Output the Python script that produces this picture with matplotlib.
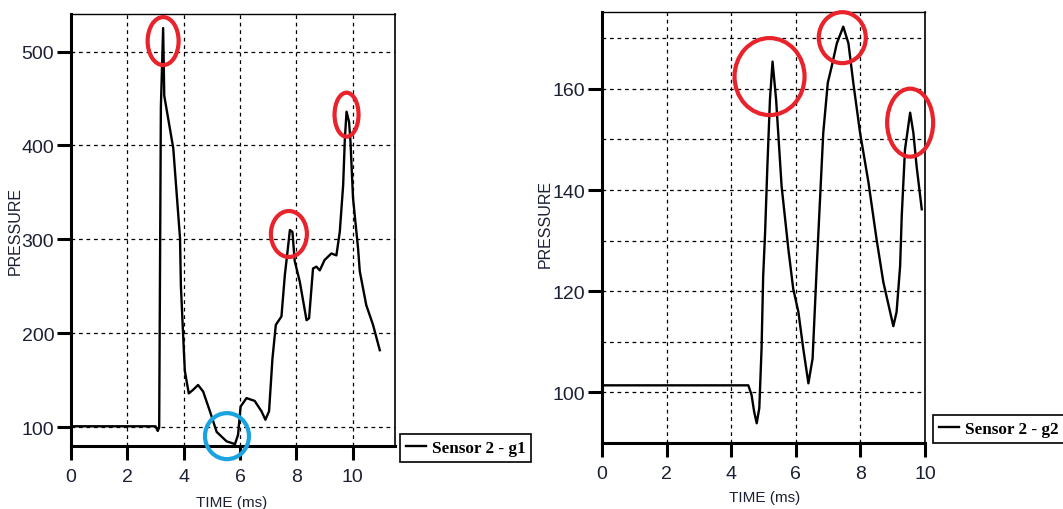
import matplotlib
matplotlib.use("Agg")
import matplotlib.pyplot as plt
import numpy as np
from matplotlib.patches import Ellipse
from matplotlib.transforms import ScaledTranslation

# ---------------- data ----------------
g1_time = [0.0, 1.0, 2.0, 3.0, 3.08, 3.13, 3.19, 3.27, 3.31, 3.63, 3.87, 3.90, 3.98,
           4.04, 4.18, 4.34, 4.51, 4.69, 4.93, 5.17, 5.52, 5.82, 5.93, 6.02, 6.23,
           6.52, 6.76, 6.90, 7.03, 7.15, 7.27, 7.47, 7.59, 7.67, 7.77, 7.86, 7.94,
           8.12, 8.36, 8.45, 8.59, 8.71, 8.83, 9.00, 9.24, 9.42, 9.54, 9.66, 9.72,
           9.78, 9.87, 9.92, 10.01, 10.19, 10.25, 10.48, 10.72, 10.96]
g1_pressure = [101, 101, 101, 101, 96, 100, 441, 525, 453, 397, 301, 251, 198,
               160, 136, 140, 145, 138, 117, 95, 85, 82, 92, 122, 131,
               128, 117, 108, 117, 173, 209, 218, 262, 283, 310, 308, 277,
               255, 214, 216, 269, 271, 267, 278, 285, 283, 308, 358, 407,
               436, 425, 404, 344, 290, 266, 230, 209, 182]

g2_time = [0.0, 1.0, 2.0, 3.0, 4.0, 4.53, 4.63, 4.71, 4.79, 4.87, 4.94, 4.99, 5.05,
           5.12, 5.20, 5.28, 5.39, 5.56, 5.77, 5.92, 6.08, 6.23, 6.39, 6.52, 6.65,
           6.75, 6.85, 6.99, 7.11, 7.27, 7.47, 7.63, 7.78, 7.99, 8.25, 8.50, 8.71,
           8.92, 9.02, 9.12, 9.23, 9.28, 9.38, 9.54, 9.64, 9.74, 9.90]
g2_pressure = [101.4, 101.4, 101.4, 101.4, 101.4, 101.4, 99.5, 96.2, 93.9, 96.9, 108.7, 123.0, 131.7,
               144.7, 157.9, 165.4, 157.9, 140.8, 128.3, 120.5, 115.9, 108.7, 101.8, 106.7, 125.0,
               138.2, 151.3, 161.2, 164.4, 169.0, 172.3, 169.0, 161.2, 151.3, 141.5, 130.3, 121.8,
               115.9, 113.1, 115.9, 125.0, 134.9, 148.0, 155.3, 151.3, 144.7, 136.2]

g1_label = "Sensor 2 - g1"
g2_label = "Sensor 2 - g2"
x_label = "TIME (ms)"
y_label = "PRESSURE"
x_ticks = [0, 2, 4, 6, 8, 10]
g1_yticks = [100, 200, 300, 400, 500]
g2_yticks = [100, 120, 140, 160]
g2_yminor = [110, 130, 150, 170]

# highlighted points: (series index, dx px, dy px, width px, height px, colour)
g1_marks = [(7, 0, -13, 31, 48, "#e8232b"),
            (34, -1, -4, 36, 46, "#e8232b"),
            (49, 0, -3, 24, 44, "#e8232b"),
            (21, -8, 8, 44, 46, "#1aa3df")]
g2_marks = [(15, -3, -15, 70, 77, "#e8232b"),
            (30, -1, -11, 47, 51, "#e8232b"),
            (43, 0, -10, 46, 68, "#e8232b")]

# ---------------- figure ----------------
W, H = 1063, 510
fig = plt.figure(figsize=(W / 100, H / 100), dpi=100)
fig.patch.set_facecolor("white")

tick_color = "#1c2033"
sans = ["Liberation Sans", "DejaVu Sans"]
serif = ["Liberation Serif", "DejaVu Serif"]


def px_box(l, r, t, b):
    return [l / W, 1 - b / H, (r - l) / W, (b - t) / H]


def style_axis(ax, xlim, ylim, yticks, yminor=None):
    ax.set_xlim(*xlim)
    ax.set_ylim(*ylim)
    ax.set_xticks(x_ticks)
    ax.set_yticks(yticks)
    if yminor:
        ax.set_yticks(yminor, minor=True)
    ax.tick_params(axis="both", which="major", direction="out", length=10,
                   width=2.2, colors="black", labelcolor=tick_color, labelsize=14)
    ax.tick_params(axis="y", which="major", pad=2)
    ax.tick_params(axis="x", which="major", pad=6)
    ax.tick_params(axis="both", which="minor", length=0)
    for lab in ax.get_xticklabels() + ax.get_yticklabels():
        lab.set_fontfamily(sans)
    ax.grid(True, which="both", axis="both", color="black", linestyle=(0, (3, 3)),
            linewidth=0.9)
    ax.spines["left"].set_linewidth(2.2)
    ax.spines["bottom"].set_linewidth(2.2)
    ax.spines["top"].set_linewidth(1.0)
    ax.spines["right"].set_linewidth(1.2)
    ax.set_xlabel(x_label, fontsize=11, family=sans, color=tick_color)
    ax.set_ylabel(y_label, fontsize=11.5, family=sans, color=tick_color)


def add_marks(ax, t, p, marks):
    for idx, dx, dy, w, h, col in marks:
        tr = fig.dpi_scale_trans + ScaledTranslation(t[idx], p[idx], ax.transData)
        e = Ellipse((dx / 100, dy / 100), w / 100, h / 100, transform=tr,
                    fill=False, edgecolor=col, linewidth=3.0, clip_on=False, zorder=5)
        ax.add_patch(e)


# left panel
ax1 = fig.add_axes(px_box(71, 395, 15, 447))
ax1.plot(g1_time, g1_pressure, color="black", linewidth=1.7, label=g1_label, zorder=3)
style_axis(ax1, (0, 11.5), (80, 540), g1_yticks)
ax1.yaxis.set_label_coords(-0.148, 0.50)
ax1.xaxis.set_label_coords(0.497, -0.114)
add_marks(ax1, g1_time, g1_pressure, g1_marks)

# right panel
ax2 = fig.add_axes(px_box(602, 925, 13, 444))
ax2.plot(g2_time, g2_pressure, color="black", linewidth=1.7, label=g2_label, zorder=3)
style_axis(ax2, (0, 10), (90, 175.2), g2_yticks, g2_yminor)
ax2.yaxis.set_label_coords(-0.152, 0.51)
ax2.xaxis.set_label_coords(0.505, -0.11)
add_marks(ax2, g2_time, g2_pressure, g2_marks)

leg_props = dict(family=serif, weight="bold", size=12.3)
for ax, (lx, by) in [(ax1, (400, 463)), (ax2, (933, 444))]:
    leg = ax.legend(loc="lower left", bbox_to_anchor=(lx / W, 1 - by / H),
                    bbox_transform=fig.transFigure, borderaxespad=0,
                    prop=leg_props, handlelength=1.2, handletextpad=0.3,
                    borderpad=0.35, fancybox=False, shadow=False, frameon=True)
    fr = leg.get_frame()
    fr.set_edgecolor("black")
    fr.set_linewidth(1.2)
    fr.set_alpha(1)

fig.savefig("out.png", dpi=100, facecolor="white")
